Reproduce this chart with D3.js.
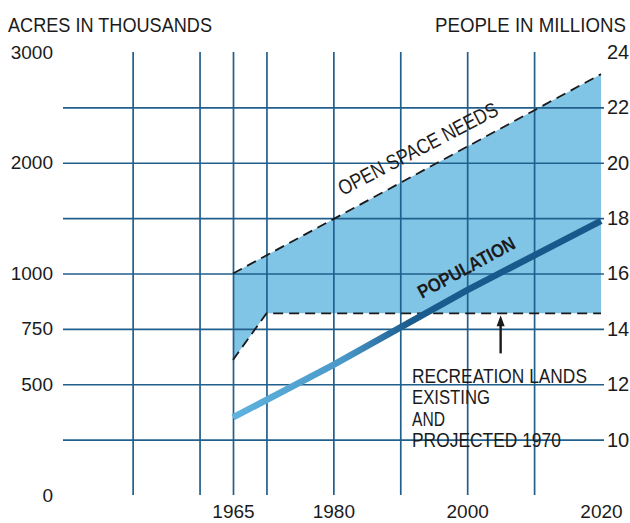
<!DOCTYPE html>
<html>
<head>
<meta charset="utf-8">
<script src="https://cdn.jsdelivr.net/npm/d3@7"></script>
<style>
  html, body { margin: 0; padding: 0; background: #ffffff; }
  svg { display: block; }
  text { font-family: "Liberation Sans", Arial, sans-serif; fill: #1b1b1b; }
</style>
</head>
<body>
<svg id="chart" width="630" height="523"></svg>
<script>
// ---- data ----
const gridYears = [1950, 1960, 1965, 1970, 1980, 1990, 2000, 2010];
const yearLabels = [1965, 1980, 2000, 2020];
const acresTicks = [0, 500, 750, 1000, 2000, 3000];
const acresTickPeople = [8, 12, 14, 16, 20, 24]; // where each acres tick sits on the people scale
const peopleTicks = [10, 12, 14, 16, 18, 20, 22, 24];
const peopleGrid = [10, 12, 14, 16, 18, 20, 22];

const openSpaceYears = [1965, 2020];
const openSpaceAcres = [1000, 2800];

const recreationYears = [1965, 1970, 2020];
const recreationAcres = [610, 820, 820];

const popYears = [1965, 1980, 2000, 2020];
const popMillions = [10.8, 12.7, 15.4, 17.9];

const recreationNote = ["RECREATION LANDS", "EXISTING", "AND", "PROJECTED 1970"];

// ---- layout ----
const svg = d3.select("#chart");
const plotLeft = 63, plotRight = 604, plotTop = 52, plotBottom = 495;

const x = d3.scaleLinear().domain([1965, 2020]).range([233, 601]);
const yR = d3.scaleLinear().domain([8, 24]).range([plotBottom, plotTop]);
const yL = d3.scaleLinear().domain(acresTicks).range(acresTickPeople.map(yR));

const gridColor = "#215f8d";
const fillColor = "#80c4e6";

// condensed text helper: natural text squeezed horizontally to a target width
function fitText(parent, txt, tx, ty, size, width, angle, weight) {
  const t = parent.append("text")
    .attr("font-size", size)
    .attr("font-weight", weight || "normal")
    .text(txt);
  const w0 = t.node().getComputedTextLength();
  t.attr("transform", `translate(${tx},${ty}) rotate(${angle || 0}) scale(${width / w0},1)`);
  return t;
}

// ---- shaded area (open space needs above recreation lands) ----
const openPts = openSpaceYears.map((yr, i) => [yr, openSpaceAcres[i]]);
const recPts = recreationYears.map((yr, i) => [yr, recreationAcres[i]]);
const poly = openPts.concat(recPts.slice().reverse());
const lineAcres = d3.line().x(d => x(d[0])).y(d => yL(d[1]));

svg.append("path")
  .attr("d", lineAcres(poly) + "Z")
  .attr("fill", fillColor);

// ---- grid ----
svg.append("g")
  .attr("transform", `translate(0,${plotBottom})`)
  .call(d3.axisBottom(x).tickValues(gridYears).tickSize(-(plotBottom - plotTop)).tickFormat(""))
  .call(g => g.select(".domain").remove())
  .call(g => g.selectAll("line").attr("stroke", gridColor).attr("stroke-width", 1.7));

svg.append("g")
  .attr("transform", `translate(${plotRight},0)`)
  .call(d3.axisRight(yR).tickValues(peopleGrid).tickSize(-(plotRight - plotLeft)).tickFormat(""))
  .call(g => g.select(".domain").remove())
  .call(g => g.selectAll("line").attr("stroke", gridColor).attr("stroke-width", 1.7));

// ---- dashed lines ----
svg.append("path")
  .attr("d", lineAcres(openPts))
  .attr("fill", "none").attr("stroke", "#1a1a1a")
  .attr("stroke-width", 1.8).attr("stroke-dasharray", "10,6");

svg.append("path")
  .attr("d", lineAcres(recPts))
  .attr("fill", "none").attr("stroke", "#1a1a1a")
  .attr("stroke-width", 1.8).attr("stroke-dasharray", "10,6");

// ---- population line ----
const defs = svg.append("defs");
const grad = defs.append("linearGradient")
  .attr("id", "popGrad").attr("gradientUnits", "userSpaceOnUse")
  .attr("x1", x(1965)).attr("x2", x(2020)).attr("y1", 0).attr("y2", 0);
grad.append("stop").attr("offset", "0%").attr("stop-color", "#5fb3de");
grad.append("stop").attr("offset", "30%").attr("stop-color", "#4a98c8");
grad.append("stop").attr("offset", "48%").attr("stop-color", "#1b5c8e");
grad.append("stop").attr("offset", "100%").attr("stop-color", "#17578a");

const popLine = d3.line().x((d, i) => x(popYears[i])).y(d => yR(d));
svg.append("path")
  .attr("d", popLine(popMillions))
  .attr("fill", "none").attr("stroke", "url(#popGrad)")
  .attr("stroke-width", 6.5).attr("stroke-linecap", "butt");

// ---- axes labels ----
svg.append("g")
  .attr("transform", `translate(${plotLeft},0)`)
  .call(d3.axisLeft(yL).tickValues(acresTicks).tickSize(0).tickPadding(10).tickFormat(d3.format("d")))
  .call(g => g.select(".domain").remove())
  .call(g => g.selectAll("text").attr("font-size", 19).attr("font-family", "Liberation Sans, Arial, sans-serif").attr("fill", "#1b1b1b"));

svg.append("g")
  .attr("transform", `translate(${plotRight},0)`)
  .call(d3.axisRight(yR).tickValues(peopleTicks).tickSize(0).tickPadding(3).tickFormat(d3.format("d")))
  .call(g => g.select(".domain").remove())
  .call(g => g.selectAll("text").attr("font-size", 20).attr("font-family", "Liberation Sans, Arial, sans-serif").attr("fill", "#1b1b1b"));

svg.append("g")
  .attr("transform", `translate(0,${plotBottom})`)
  .call(d3.axisBottom(x).tickValues(yearLabels).tickSize(0).tickPadding(10).tickFormat(d3.format("d")))
  .call(g => g.select(".domain").remove())
  .call(g => g.selectAll("text").attr("font-size", 19).attr("font-family", "Liberation Serif, Times New Roman, serif").attr("fill", "#1b1b1b"));

// ---- titles ----
fitText(svg, "ACRES IN THOUSANDS", 8, 32, 21, 204, 0);
fitText(svg, "PEOPLE IN MILLIONS", 435, 32, 21, 191, 0);

// ---- annotations ----
fitText(svg, "OPEN SPACE NEEDS", x(1981.4), yL(1510) - 21, 21, 177, -27.5);
fitText(svg, "POPULATION", x(1993.25), yR(14.1) - 27, 19, 108, -28.5, "bold");

const recWidths = [175, 78, 33, 149];
const recG = svg.append("g");
recreationNote.forEach((t, i) => fitText(recG, t, 412, 383 + i * 21.3, 21, recWidths[i], 0));

// arrow pointing to recreation lands line
const ax = x(2005), ayTop = yL(820) + 2, ayBot = ayTop + 38;
svg.append("line").attr("x1", ax).attr("x2", ax).attr("y1", ayTop + 8).attr("y2", ayBot)
  .attr("stroke", "#1a1a1a").attr("stroke-width", 2.4);
svg.append("path")
  .attr("d", `M${ax},${ayTop} L${ax - 4},${ayTop + 11} L${ax + 4},${ayTop + 11} Z`)
  .attr("fill", "#1a1a1a");
</script>
</body>
</html>
